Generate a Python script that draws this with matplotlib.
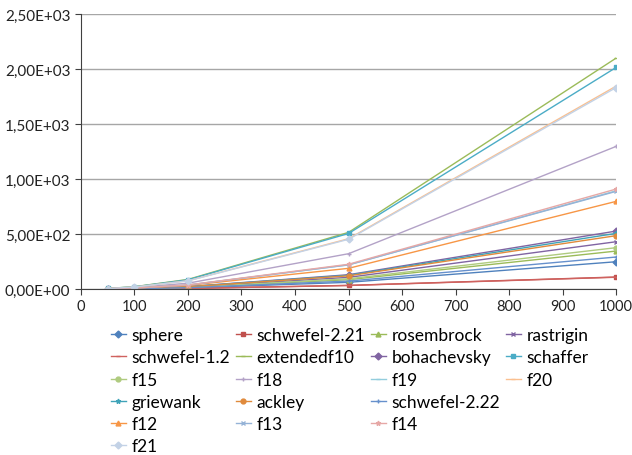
import matplotlib
matplotlib.use('Agg')
import matplotlib.pyplot as plt
from matplotlib.lines import Line2D
from matplotlib.ticker import FuncFormatter, MultipleLocator

plt.rcParams['font.family'] = ['Lato', 'DejaVu Sans']

# problem size on the x axis
sizes = [50, 100, 200, 500, 1000]

# series values (one list per function)
sphere = [1, 3, 10, 61, 248]
schwefel_221 = [0.3, 1, 5, 33, 109]
rosembrock = [1, 3, 14, 85, 345]
rastrigin = [1, 4, 18, 106, 430]
schwefel_12 = [0.3, 1, 5, 32, 107]
extendedf10 = [5, 21, 87, 515, 2100]
bohachevsky = [1, 5, 22, 130, 527]
schaffer = [5, 20, 84, 505, 2015]
f15 = [1, 4, 15, 93, 376]
f18 = [3, 13, 53, 321, 1297]
f19 = [2, 9, 36, 219, 893]
f20 = [4, 18, 75, 457, 1845]
griewank = [1, 5, 21, 125, 506]
ackley = [1, 5, 20, 120, 485]
schwefel_222 = [1, 3, 12, 72, 291]
f12 = [2, 8, 33, 188, 797]
f13 = [2, 9, 36, 220, 888]
f14 = [2, 9, 37, 225, 909]
f21 = [4, 18, 74, 452, 1832]

names = ['sphere', 'schwefel-2.21', 'rosembrock', 'rastrigin',
         'schwefel-1.2', 'extendedf10', 'bohachevsky', 'schaffer',
         'f15', 'f18', 'f19', 'f20',
         'griewank', 'ackley', 'schwefel-2.22',
         'f12', 'f13', 'f14', 'f21']
series = [sphere, schwefel_221, rosembrock, rastrigin,
          schwefel_12, extendedf10, bohachevsky, schaffer,
          f15, f18, f19, f20,
          griewank, ackley, schwefel_222,
          f12, f13, f14, f21]

colors = ['#4F81BD', '#C0504D', '#9BBB59', '#8064A2',
          '#D0625F', '#9BBB59', '#8064A2', '#4BACC6',
          '#AFCB7F', '#B3A2C7', '#93CDDD', '#FAC090',
          '#3FA3B8', '#E08A3C', '#6690CC',
          '#F79646', '#95B3D7', '#E6A8A6', '#C3D2E6']
markers = ['D', 's', '^', 'x',
           '_', '_', 'D', 's',
           'o', '+', '_', '_',
           '*', 'o', '+',
           '^', 'x', '*', 'D']

fig = plt.figure(figsize=(6.32, 4.56), dpi=100)
ax = fig.add_axes([0.128, 0.364, 0.847, 0.603])

handles = []
for name, vals, c, m in zip(names, series, colors, markers):
    h, = ax.plot(sizes, vals, color=c, marker=m, markersize=3.5,
                 linewidth=1.0, label=name)
    handles.append(h)

ax.set_xlim(0, 1000)
ax.set_ylim(0, 2500)
ax.xaxis.set_major_locator(MultipleLocator(100))
ax.yaxis.set_major_locator(MultipleLocator(500))
ax.yaxis.set_major_formatter(
    FuncFormatter(lambda v, p: f'{v:.2E}'.replace('.', ',')))
ax.grid(axis='y', color='#A6A6A6', linewidth=1)
ax.set_axisbelow(True)
for s in ['top', 'right']:
    ax.spines[s].set_visible(False)
ax.spines['left'].set_color('#404040')
ax.spines['bottom'].set_color('#404040')
ax.tick_params(direction='out', length=4, color='#404040',
               labelsize=11, colors='#222222')
ax.tick_params(axis='x', labelsize=10.5)

# legend in excel row order, padded so matplotlib's column fill matches
blank = Line2D([], [], linestyle='none')
rows = [[0, 1, 2, 3], [4, 5, 6, 7], [8, 9, 10, 11],
        [12, 13, 14, None], [15, 16, 17, None], [18, None, None, None]]
leg_h, leg_l = [], []
for col in range(4):
    for r in rows:
        i = r[col]
        if i is None:
            leg_h.append(blank)
            leg_l.append('')
        else:
            leg_h.append(handles[i])
            leg_l.append(names[i])
fig.legend(leg_h, leg_l, ncol=4, loc='upper left',
           bbox_to_anchor=(0.175, 0.28), frameon=False, fontsize=12.5,
           handlelength=0.9, handletextpad=0.3, columnspacing=0.32,
           labelspacing=0.355, borderpad=0, borderaxespad=0)

fig.savefig('out.png', dpi=100)
